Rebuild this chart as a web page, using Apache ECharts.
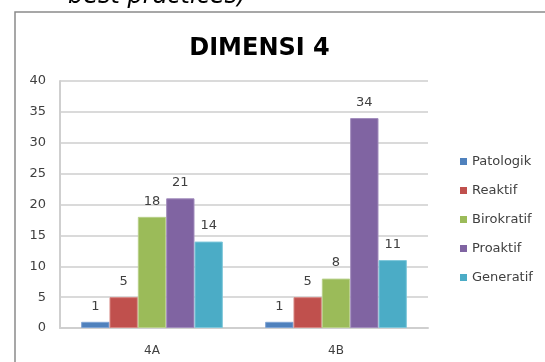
<!DOCTYPE html>
<html>
<head>
<meta charset="utf-8">
<style>
  html, body { margin: 0; padding: 0; background: #ffffff; }
  #chart { width: 545px; height: 362px; }
</style>
<script src="https://cdn.jsdelivr.net/npm/echarts@6/dist/echarts.min.js"></script>
</head>
<body>
<div id="chart"></div>
<script>
// Categories and series values
var categories = ['4A', '4B'];
var seriesNames = ['Patologik', 'Reaktif', 'Birokratif', 'Proaktif', 'Generatif'];
var patologik = [1, 1];
var reaktif = [5, 5];
var birokratif = [18, 8];
var proaktif = [21, 34];
var generatif = [14, 11];
var yTicks = [0, 5, 10, 15, 20, 25, 30, 35, 40];

var values = [patologik, reaktif, birokratif, proaktif, generatif];
var colors = ['#4F81BD', '#C0504D', '#9BBB59', '#8064A2', '#4BACC6'];
var edges = ['#7FA3D3', '#D78683', '#B8D08A', '#A28DBD', '#7FC7DA'];
var FONT = 'DejaVu Sans';

var chart = echarts.init(document.getElementById('chart'), null, { renderer: 'canvas' });

var series = seriesNames.map(function (name, i) {
  return {
    name: name,
    type: 'bar',
    data: values[i],
    barGap: '0%',
    barCategoryGap: '23%',
    itemStyle: { color: colors[i], borderColor: edges[i], borderWidth: 1 },
    label: {
      show: true,
      position: 'top',
      distance: 9,
      color: '#404040',
      fontFamily: FONT,
      fontSize: 13
    }
  };
});

chart.setOption({
  animation: false,
  backgroundColor: '#ffffff',
  graphic: [
    {
      type: 'text',
      left: 68,
      top: -15,
      style: {
        text: 'best practices)',
        fontFamily: FONT,
        fontStyle: 'italic',
        fontSize: 24,
        fill: '#000000'
      }
    },
    {
      type: 'rect',
      shape: { x: 15, y: 12, width: 600, height: 400 },
      style: { fill: 'none', stroke: '#8a8a8a', lineWidth: 1.5 },
      z: 0
    },
    {
      type: 'text',
      x: 259.5,
      y: 49,
      style: {
        text: 'DIMENSI 4',
        fontFamily: FONT,
        fontWeight: 'bold',
        fontSize: 24,
        fill: '#000000',
        align: 'center',
        verticalAlign: 'middle'
      }
    }
  ],
  legend: {
    orient: 'vertical',
    left: 455,
    top: 150,
    itemWidth: 7,
    itemHeight: 7,
    itemGap: 16,
    icon: 'rect',
    itemStyle: { borderWidth: 0 },
    data: seriesNames,
    textStyle: { fontFamily: FONT, fontSize: 13, color: '#404040' }
  },
  grid: { left: 60, right: 117, top: 81, bottom: 34, containLabel: false },
  xAxis: {
    type: 'category',
    data: categories,
    axisTick: { show: false },
    axisLine: { lineStyle: { color: '#cfcfcf', width: 2 } },
    axisLabel: { fontFamily: FONT, fontSize: 12, color: '#404040', margin: 17 }
  },
  yAxis: {
    type: 'value',
    min: yTicks[0],
    max: yTicks[yTicks.length - 1],
    interval: yTicks[1] - yTicks[0],
    axisLine: { show: true, lineStyle: { color: '#cfcfcf', width: 2 } },
    axisTick: { show: false },
    splitLine: { lineStyle: { color: '#dadada', width: 2 } },
    axisLabel: { fontFamily: FONT, fontSize: 13, color: '#404040', margin: 14 }
  },
  series: series
});
</script>
</body>
</html>
